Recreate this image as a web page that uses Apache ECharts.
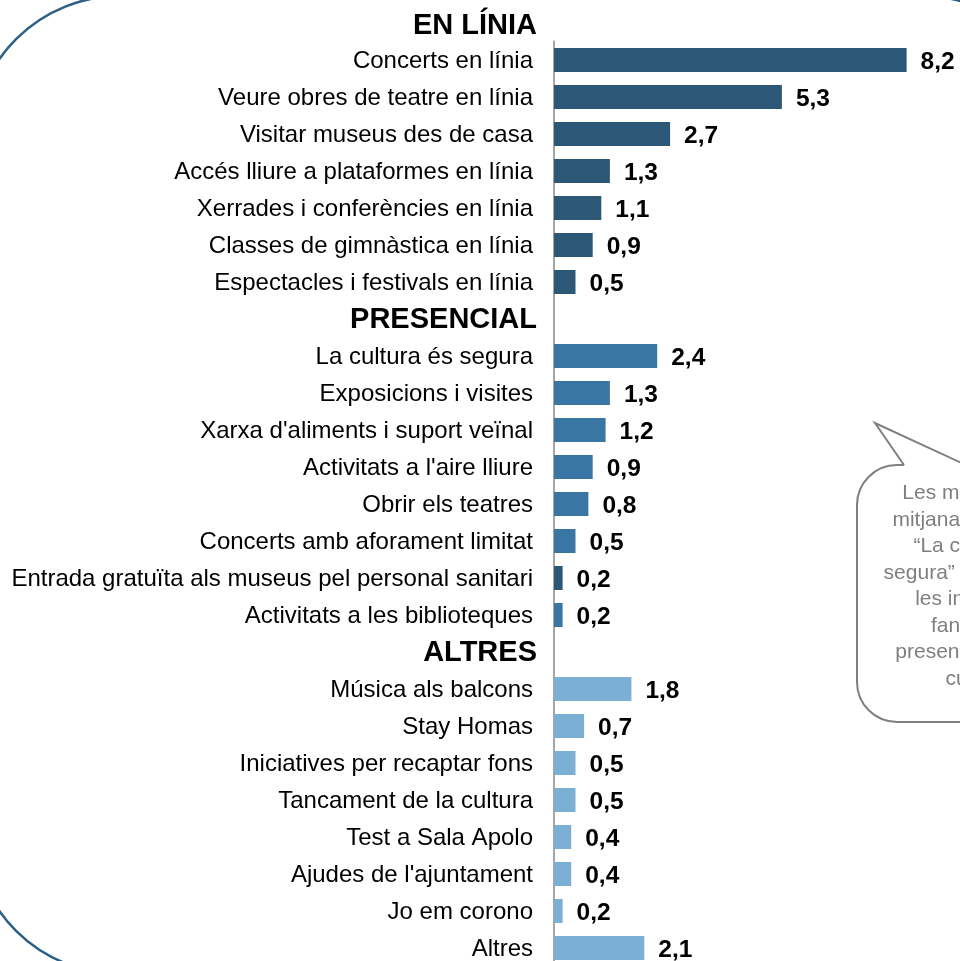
<!DOCTYPE html>
<html>
<head>
<meta charset="utf-8">
<script src="https://cdn.jsdelivr.net/npm/echarts@6/dist/echarts.min.js"></script>
<style>
  html, body { margin: 0; padding: 0; background: #fff; overflow: hidden; }
  #main { width: 960px; height: 980px; }
</style>
</head>
<body>
<div id="main"></div>
<script>
// grups de mesures
var onlineHeader = 'EN LÍNIA'
var onlineLabels = ['Concerts en línia', 'Veure obres de teatre en línia', 'Visitar museus des de casa',
  'Accés lliure a plataformes en línia', 'Xerrades i conferències en línia',
  'Classes de gimnàstica en línia', 'Espectacles i festivals en línia']
var onlineValues = [8.2, 5.3, 2.7, 1.3, 1.1, 0.9, 0.5]

var presencialHeader = 'PRESENCIAL'
var presencialLabels = ['La cultura és segura', 'Exposicions i visites', "Xarxa d'aliments i suport veïnal",
  "Activitats a l'aire lliure", 'Obrir els teatres', 'Concerts amb aforament limitat',
  'Entrada gratuïta als museus pel personal sanitari', 'Activitats a les biblioteques']
var presencialValues = [2.4, 1.3, 1.2, 0.9, 0.8, 0.5, 0.2, 0.2]

var altresHeader = 'ALTRES'
var altresLabels = ['Música als balcons', 'Stay Homas', 'Iniciatives per recaptar fons',
  'Tancament de la cultura', 'Test a Sala Apolo', "Ajudes de l'ajuntament", 'Jo em corono', 'Altres']
var altresValues = [1.8, 0.7, 0.5, 0.5, 0.4, 0.4, 0.2, 2.1]

var bubbleText = 'Les mesures de\nmitjana més altes:\n“La cultura és\nsegura” i en general\nles iniciatives\nfan que la\npresencialitat a la\ncultura'

// colors
var colOnline = '#2c5777'
var colPresencial = '#3a76a3'
var colAltres = '#7bafd4'
var darkRows = ['Entrada gratuïta als museus pel personal sanitari']

var FONT = "'Liberation Sans', Arial, sans-serif"

var categories = []
var barData = []
var headers = [presencialHeader, altresHeader]

function addGroup (labels, values, color) {
  for (var i = 0; i < labels.length; i++) {
    categories.push(labels[i])
    var c = darkRows.indexOf(labels[i]) >= 0 ? colOnline : color
    barData.push({ value: values[i], itemStyle: { color: c } })
  }
}
addGroup(onlineLabels, onlineValues, colOnline)
categories.push(presencialHeader)
barData.push('-')
addGroup(presencialLabels, presencialValues, colPresencial)
categories.push(altresHeader)
barData.push('-')
addGroup(altresLabels, altresValues, colAltres)

var chart = echarts.init(document.getElementById('main'))
var option = {
  animation: false,
  grid: { left: 554, top: 41.5, width: 387, height: 925, containLabel: false },
  xAxis: {
    type: 'value', min: 0, max: 9,
    show: false
  },
  yAxis: {
    type: 'category',
    inverse: true,
    data: categories,
    axisTick: { show: false },
    axisLine: { show: true, lineStyle: { color: '#a6a6a6', width: 2 } },
    axisLabel: {
      margin: 17,
      formatter: function (v) {
        return headers.indexOf(v) >= 0 ? '{h|' + v + '}' : '{n|' + v + '}'
      },
      rich: {
        h: { fontFamily: FONT, fontSize: 29, fontWeight: 'bold', color: '#000', padding: [2, 0, 0, 0] },
        n: { fontFamily: FONT, fontSize: 24, color: '#000', padding: [3, 4, 0, 0] }
      }
    }
  },
  series: [{
    type: 'bar',
    data: barData,
    barWidth: 24,
    label: {
      show: true,
      position: 'right',
      distance: 14,
      offset: [0, 2],
      fontFamily: FONT,
      fontSize: 24.5,
      fontWeight: 'bold',
      color: '#000',
      formatter: function (p) { return p.value.toFixed(1).replace('.', ',') }
    }
  }],
  graphic: [
    {
      type: 'rect', z: -1, silent: true,
      shape: { x: -27, y: -4, width: 1096, height: 978, r: 147 },
      style: { fill: 'none', stroke: '#2b5f85', lineWidth: 2.5 }
    },
    // bafarada
    {
      type: 'rect', silent: true, z: 10,
      shape: { x: 857, y: 465, width: 343, height: 257, r: 40 },
      style: { fill: '#fff', stroke: '#7f7f7f', lineWidth: 2 }
    },
    {
      type: 'polygon', silent: true, z: 11,
      shape: { points: [[905, 467], [875, 423], [966, 467]] },
      style: { fill: '#fff' }
    },
    {
      type: 'polyline', silent: true, z: 12,
      shape: { points: [[904, 465], [875, 423], [966, 465]] },
      style: { fill: 'none', stroke: '#7f7f7f', lineWidth: 2 }
    },
    {
      type: 'text', silent: true, z: 13, x: 977, y: 480,
      style: {
        text: bubbleText, fill: '#7f7f7f', font: '21px ' + FONT,
        textAlign: 'center', textVerticalAlign: 'top', lineHeight: 26.5
      }
    },
    {
      type: 'text', silent: true, x: 537, y: 26,
      style: {
        text: onlineHeader, fill: '#000', font: 'bold 29px ' + FONT,
        textAlign: 'right', textVerticalAlign: 'middle'
      }
    }
  ]
}
chart.setOption(option)
</script>
</body>
</html>
